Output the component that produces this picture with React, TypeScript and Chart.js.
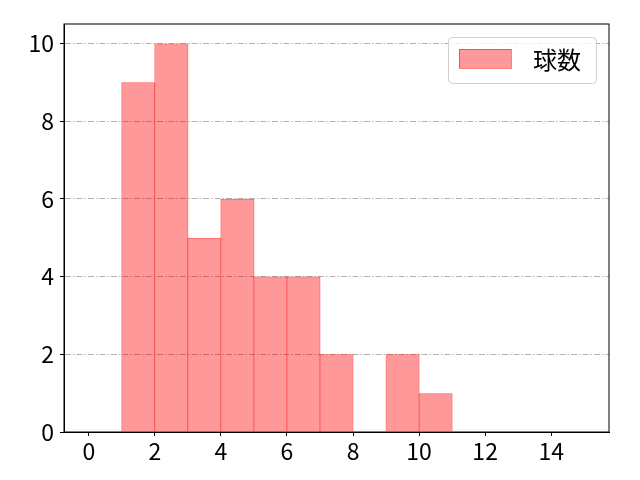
import React, { useEffect, useRef } from "react";
import { Chart, registerables } from "chart.js";

Chart.register(...registerables);

const binEdges = [0, 1, 2, 3, 4, 5, 6, 7, 8, 9, 10, 11, 12, 13, 14, 15];
const counts = [0, 9, 10, 5, 6, 4, 4, 2, 0, 2, 1, 0, 0, 0, 0];
const xTicks = [0, 2, 4, 6, 8, 10, 12, 14];
const yTicks = [0, 2, 4, 6, 8, 10];
const seriesLabel = "球数";

const FONT = "'Noto Sans CJK JP', 'Noto Sans', sans-serif";

const framePlugin = {
  id: "frame",
  afterDraw(chart: any) {
    const { ctx, chartArea } = chart;
    ctx.save();
    ctx.strokeStyle = "#000";
    ctx.lineWidth = 1;
    ctx.strokeRect(chartArea.left, chartArea.top, chartArea.right - chartArea.left, chartArea.bottom - chartArea.top);
    ctx.restore();
  },
};

const legendPlugin = {
  id: "mplLegend",
  afterDraw(chart: any) {
    const { ctx, chartArea } = chart;
    const w = 148;
    const h = 46;
    const x = chartArea.right - 13 - w;
    const y = chartArea.top + 13;
    ctx.save();
    ctx.fillStyle = "rgba(255,255,255,0.8)";
    ctx.strokeStyle = "#d0d0d0";
    ctx.lineWidth = 1;
    ctx.beginPath();
    (ctx as any).roundRect(x + 0.5, y + 0.5, w, h, 4);
    ctx.fill();
    ctx.stroke();
    ctx.fillStyle = "rgba(255,0,0,0.4)";
    ctx.strokeStyle = "rgba(255,0,0,0.5)";
    ctx.fillRect(x + 11, y + 12, 52, 19);
    ctx.strokeRect(x + 11.5, y + 12.5, 52, 19);
    ctx.fillStyle = "#000";
    ctx.font = `24px ${FONT}`;
    ctx.textBaseline = "middle";
    ctx.fillText(seriesLabel, x + 85, y + 23);
    ctx.restore();
  },
};

export default function App() {
  const ref = useRef<HTMLCanvasElement | null>(null);

  useEffect(() => {
    if (!ref.current) return;
    const data = counts.map((c, i) => ({ x: (binEdges[i] + binEdges[i + 1]) / 2, y: c }));
    const chart = new Chart(ref.current, {
      type: "bar",
      data: {
        datasets: [
          {
            label: seriesLabel,
            data,
            backgroundColor: "rgba(255,0,0,0.4)",
            borderColor: "rgba(255,0,0,0.65)",
            borderWidth: 1,
            inflateAmount: 0,
            barPercentage: 1.03,
            categoryPercentage: 1,
          } as any,
        ],
      },
      options: {
        animation: false,
        responsive: false,
        maintainAspectRatio: false,
        layout: { padding: { left: 0, right: 31, top: 24, bottom: 0 } },
        plugins: { legend: { display: false }, tooltip: { enabled: false } },
        scales: {
          x: {
            type: "linear",
            offset: false,
            min: -0.75,
            max: 15.75,
            afterBuildTicks: (s: any) => {
              s.ticks = xTicks.map((v) => ({ value: v }));
            },
            afterFit: (s: any) => {
              s.height = 48;
            },
            grid: { offset: false, drawOnChartArea: false, drawTicks: true, tickLength: 4, tickColor: "#000" },
            border: { display: true, color: "#000" },
            ticks: { color: "#000", font: { family: FONT, size: 23 }, padding: 1, maxRotation: 0 },
          },
          y: {
            type: "linear",
            min: 0,
            max: 10.5,
            afterBuildTicks: (s: any) => {
              s.ticks = yTicks.map((v) => ({ value: v }));
            },
            afterFit: (s: any) => {
              s.width = 64;
            },
            grid: {
              color: "#b0b0b0",
              lineWidth: 1,
              drawTicks: true,
              tickLength: 4,
              tickColor: "#000",
              tickBorderDash: [],
            },
            border: { display: true, color: "#000", dash: [6, 2, 1.5, 2] },
            ticks: { color: "#000", font: { family: FONT, size: 23 }, padding: 6 },
          },
        },
      },
      plugins: [framePlugin, legendPlugin],
    });
    return () => chart.destroy();
  }, []);

  return (
    <div style={{ position: "absolute", left: 0, top: 0, width: 640, height: 480, background: "#fff" }}>
      <canvas ref={ref} width={640} height={480} style={{ width: 640, height: 480 }} />
    </div>
  );
}
